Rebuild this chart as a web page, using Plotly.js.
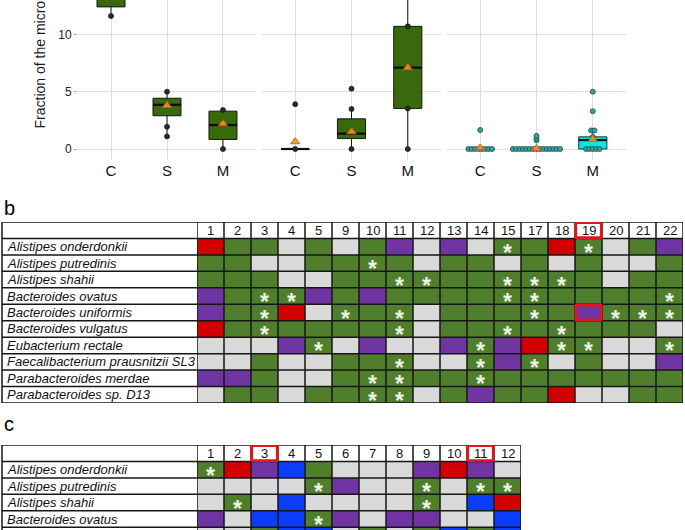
<!DOCTYPE html>
<html><head><meta charset="utf-8">
<script src="https://cdn.plot.ly/plotly-3.0.1.min.js"></script>
<style>html,body{margin:0;padding:0;background:#fff}#chart{width:685px;height:530px}</style>
</head><body><div id="chart"></div>
<script>
// ---------- panel a: box plots ----------
const groups = ['C','S','M'];
// panel 1 (green)
const p1_q1  = [12.4, 2.9, 0.83];
const p1_med = [14.6, 3.86, 2.09];
const p1_q3  = [16.3, 4.43, 3.3];
const p1_lo  = [11.6, 1.1, 0];
const p1_hi  = [19.5, 5.0, 3.45];
const p1_mean = [14.9, 3.8, 2.2];
const p1_points = [[11.6], [5.0, 1.94, 1.1], [0, 3.4]];
// panel 2 (green)
const p2_q1  = [0, 0.91, 3.54];
const p2_med = [0, 1.34, 7.1];
const p2_q3  = [0, 2.63, 10.7];
const p2_lo  = [0, 0, 0];
const p2_hi  = [0, 3.49, 18.0];
const p2_mean = [0.63, 1.5, 7.1];
const p2_points = [[0, 3.91], [0, 3.49, 5.26], [0, 3.54, 10.7]];
// panel 3 (cyan)
const p3_q1  = [0, 0, 0];
const p3_med = [0, 0, 0.78];
const p3_q3  = [0, 0, 1.06];
const p3_lo  = [0, 0, 0];
const p3_hi  = [0, 0, 1.66];
const p3_mean = [0.1, 0.05, 0.85];
const p3_points = [
  [0,0,0,0,0,0,0,0, 1.66],
  [0,0,0,0,0,0,0,0,0,0,0,0,0,0,0, 0.75, 0.95, 1.15],
  [0,0,0,0,0, 1.06, 1.62, 1.62, 3.3, 5.0]
];
const yTicks = [0, 5, 10];

// ---------- panel b table ----------
const b_cols = ['1','2','3','4','5','9','10','11','12','13','14','15','17','18','19','20','21','22'];
const b_rows = ['Alistipes onderdonkii','Alistipes putredinis','Alistipes shahii','Bacteroides ovatus',
  'Bacteroides uniformis','Bacteroides vulgatus','Eubacterium rectale','Faecalibacterium prausnitzii SL3',
  'Parabacteroides merdae','Parabacteroides sp. D13'];
const b_status = ['RGGLGLGPLPLGGRGLGP','GGLLGGGGLGGLGLGLLG','GGGLLGGGGGGGGGGLGG','PGGGPGPGGGGGGGGGGG',
  'PGGRLGGGLGGGGGPGGG','RGGGGGGGLGGGGGGGGL','LLLPGLPLLPGPRGGLLG','LLGLLGGGLLGPGLGLLP',
  'PPGLLGGGGGGGGGGGGG','LGGLGGGGLGPGGRLLGG'];
const b_stars = ['000000000001001000','000000100000000000','000000011001110000','001100000001100001',
  '001001010000100111','001000010001010000','000010000010011001','000000010010100000',
  '000000110010000000','000000110000000000'];
const b_highlight = [['header','19'], ['Bacteroides uniformis','19']];

// ---------- panel c table ----------
const c_cols = ['1','2','3','4','5','6','7','8','9','10','11','12'];
const c_rows = ['Alistipes onderdonkii','Alistipes putredinis','Alistipes shahii','Bacteroides ovatus','Bacteroides uniformis'];
const c_status = ['GRPBGLLLPRPL','LLLLGPLLGLGG','LGLBLLLLGLBR','PLBBGPLPPLLB','LLGBBLGLGBGB'];
const c_stars = ['100000000000','000010001011','010000001000','000010000000','000000000000'];
const c_highlight = [['header','3'], ['header','11']];

// ---------- styling ----------
const W = 685, H = 530;
const FONT = 'Liberation Sans, Arial, Helvetica, sans-serif';
const GREEN_BOX = '#386a0d', CYAN_BOX = '#00e8ec';
const codeOf = {G:1, R:2, P:3, L:4, B:5};
const cellScale = [[0,'#ffffff'],[0.2,'#4f7e2d'],[0.4,'#d20000'],[0.6,'#7134a3'],[0.8,'#d9d9d9'],[1,'#0a3cfa']];
const px = v => v / W, py = v => (H - v) / H;

const traces = [];
const panels = [
  {q1:p1_q1, med:p1_med, q3:p1_q3, lo:p1_lo, hi:p1_hi, mean:p1_mean, pts:p1_points, fill:GREEN_BOX, line:'#161616', ptc:'#2a2a2a', ptl:'#1a1a1a'},
  {q1:p2_q1, med:p2_med, q3:p2_q3, lo:p2_lo, hi:p2_hi, mean:p2_mean, pts:p2_points, fill:GREEN_BOX, line:'#161616', ptc:'#2a2a2a', ptl:'#1a1a1a'},
  {q1:p3_q1, med:p3_med, q3:p3_q3, lo:p3_lo, hi:p3_hi, mean:p3_mean, pts:p3_points, fill:CYAN_BOX, line:'#183838', ptc:'#3a9e9e', ptl:'#1c4f4f'}
];
const BOXW = 0.5;
panels.forEach((p, k) => {
  const xa = k === 0 ? 'x' : 'x' + (k + 1), ya = k === 0 ? 'y' : 'y' + (k + 1);
  const pos = groups.map((_, i) => i);
  traces.push({type:'box', xaxis:xa, yaxis:ya, x:pos, q1:p.q1, median:p.med, q3:p.q3,
    lowerfence:p.lo, upperfence:p.hi, width:BOXW, whiskerwidth:0, fillcolor:p.fill,
    line:{color:p.line, width:1}, boxpoints:false, hoverinfo:'skip', showlegend:false});
  // thick median
  const mx = [], my = [];
  pos.forEach(i => { mx.push(i - BOXW/2, i + BOXW/2, null); my.push(p.med[i], p.med[i], null); });
  traces.push({type:'scatter', mode:'lines', xaxis:xa, yaxis:ya, x:mx, y:my,
    line:{color:'#0d0d0d', width:2.2}, hoverinfo:'skip', showlegend:false});
  // points (dodged when values coincide)
  const sx = [], sy = [];
  p.pts.forEach((vals, i) => {
    const counts = {};
    vals.forEach(v => { const key = v.toFixed(2); counts[key] = (counts[key] || 0) + 1; });
    const seen = {};
    vals.forEach(v => {
      const key = v.toFixed(2); const n = counts[key]; const j = seen[key] || 0; seen[key] = j + 1;
      sx.push(i + (j - (n - 1) / 2) * 0.06); sy.push(v);
    });
  });
  traces.push({type:'scatter', mode:'markers', xaxis:xa, yaxis:ya, x:sx, y:sy,
    marker:{size:5, color:p.ptc, line:{color:p.ptl, width:0.8}}, hoverinfo:'skip', showlegend:false});
  // means
  traces.push({type:'scatter', mode:'markers', xaxis:xa, yaxis:ya, x:pos, y:p.mean,
    marker:{symbol:'triangle-up', size:8, color:'rgba(238,150,45,0.9)', line:{color:'#d35a1a', width:1}},
    hoverinfo:'skip', showlegend:false});
});

// tables as heatmaps
function tableZ(status, ncols) {
  const z = [new Array(ncols).fill(0)];
  status.forEach(s => z.push(s.split('').map(ch => codeOf[ch])));
  return z;
}
traces.push({type:'heatmap', xaxis:'x4', yaxis:'y4', z:tableZ(b_status, b_cols.length),
  x:b_cols.map((_, i) => i), y:[0].concat(b_rows.map((_, i) => i + 1)),
  colorscale:cellScale, zmin:0, zmax:5, showscale:false, hoverinfo:'skip'});
traces.push({type:'heatmap', xaxis:'x5', yaxis:'y5', z:tableZ(c_status, c_cols.length),
  x:c_cols.map((_, i) => i), y:[0].concat(c_rows.map((_, i) => i + 1)),
  colorscale:cellScale, zmin:0, zmax:5, showscale:false, hoverinfo:'skip'});

const annotations = [];
const shapes = [];
const LINE = {color:'#161616', width:1.5};

function buildTable(cols, rows, stars, highlight, xa, ya, leftPx, rightPx) {
  // header numbers
  cols.forEach((c, i) => annotations.push({xref:xa, yref:ya, x:i, y:0, text:c, showarrow:false,
    font:{family:FONT, size:13, color:'#111'}}));
  // row labels
  rows.forEach((r, j) => annotations.push({xref:'paper', yref:ya, x:px(leftPx + 3), y:j + 1, xanchor:'left',
    text:'<i>' + r + '</i>', showarrow:false, font:{family:FONT, size:13, color:'#111'}}));
  // stars
  stars.forEach((s, j) => s.split('').forEach((f, i) => {
    if (f === '1') annotations.push({xref:xa, yref:ya, x:i, y:j + 1, text:'<b>*</b>', showarrow:false,
      yshift:-6, font:{family:FONT, size:23, color:'#eef4e4'}});
  }));
  // grid lines
  for (let j = 0; j <= rows.length + 1; j++)
    shapes.push({type:'line', xref:'paper', yref:ya, x0:px(leftPx), x1:px(rightPx), y0:j - 0.5, y1:j - 0.5, line:LINE});
  for (let i = 0; i <= cols.length; i++)
    shapes.push({type:'line', xref:xa, yref:ya, x0:i - 0.5, x1:i - 0.5, y0:-0.5, y1:rows.length + 0.5, line:LINE});
  shapes.push({type:'line', xref:'paper', yref:ya, x0:px(leftPx), x1:px(leftPx), y0:-0.5, y1:rows.length + 0.5, line:LINE});
  // red highlights
  highlight.forEach(([r, c]) => {
    const i = cols.indexOf(c), j = r === 'header' ? 0 : rows.indexOf(r) + 1;
    shapes.push({type:'rect', xref:xa, yref:ya, x0:i - 0.47, x1:i + 0.47, y0:j - 0.45, y1:j + 0.45,
      line:{color:'#e8141a', width:2.6}, fillcolor:'rgba(0,0,0,0)'});
  });
}
buildTable(b_cols, b_rows, b_stars, b_highlight, 'x4', 'y4', 2, 683);
buildTable(c_cols, c_rows, c_stars, c_highlight, 'x5', 'y5', 2, 521);

// panel letters & y title
annotations.push({xref:'paper', yref:'paper', x:px(2), y:py(208), xanchor:'left', text:'b', showarrow:false,
  font:{family:FONT, size:20, color:'#000'}});
annotations.push({xref:'paper', yref:'paper', x:px(2), y:py(437), xanchor:'left', text:'c', showarrow:false,
  font:{family:FONT, size:20, color:'#000'}});
annotations.push({xref:'paper', yref:'paper', x:px(40), y:py(131), xanchor:'center', yanchor:'bottom',
  textangle:-90, text:'Fraction of the microbiome (%)', showarrow:false, font:{family:FONT, size:14, color:'#1a1a1a'}});

const YR = [-0.96, 13.0];
const yDom = [py(160), 1];
function boxX(l, r, anchor) {
  return {domain:[px(l), px(r)], range:[-0.59, 2.59], anchor:anchor, tickvals:[0,1,2], ticktext:groups,
    showgrid:true, gridcolor:'#dedede', gridwidth:1, zeroline:false, showline:false, ticks:'',
    tickfont:{family:FONT, size:15, color:'#111'}, fixedrange:true};
}
function boxY(anchor, labels) {
  return {domain:yDom, range:YR, anchor:anchor, tickvals:yTicks, showgrid:true, gridcolor:'#dedede', gridwidth:1,
    zeroline:false, showline:false, ticks:labels ? 'outside' : '', ticklen:3, tickcolor:'#aaaaaa',
    showticklabels:labels, tickfont:{family:FONT, size:12, color:'#222'}, fixedrange:true};
}
const hidden = {visible:false, fixedrange:true};
const layout = {
  width:W, height:H, margin:{l:0, r:0, t:0, b:0, pad:0}, paper_bgcolor:'#fff', plot_bgcolor:'rgba(0,0,0,0)',
  showlegend:false, font:{family:FONT},
  xaxis:boxX(78, 256, 'y'), yaxis:boxY('x', true),
  xaxis2:boxX(262, 441, 'y2'), yaxis2:boxY('x2', false),
  xaxis3:boxX(447, 626, 'y3'), yaxis3:boxY('x3', false),
  xaxis4:Object.assign({domain:[px(197), px(683)], range:[-0.5, b_cols.length - 0.5], anchor:'y4'}, hidden),
  yaxis4:Object.assign({domain:[py(403), py(222)], range:[b_rows.length + 0.5, -0.5], anchor:'x4'}, hidden),
  xaxis5:Object.assign({domain:[px(197), px(521)], range:[-0.5, c_cols.length - 0.5], anchor:'y5'}, hidden),
  yaxis5:Object.assign({domain:[0, py(445)], range:[-0.5 + 85 / 16.45, -0.5], anchor:'x5'}, hidden),
  annotations:annotations, shapes:shapes
};
Plotly.newPlot('chart', traces, layout, {staticPlot:true, displayModeBar:false});
</script></body></html>
